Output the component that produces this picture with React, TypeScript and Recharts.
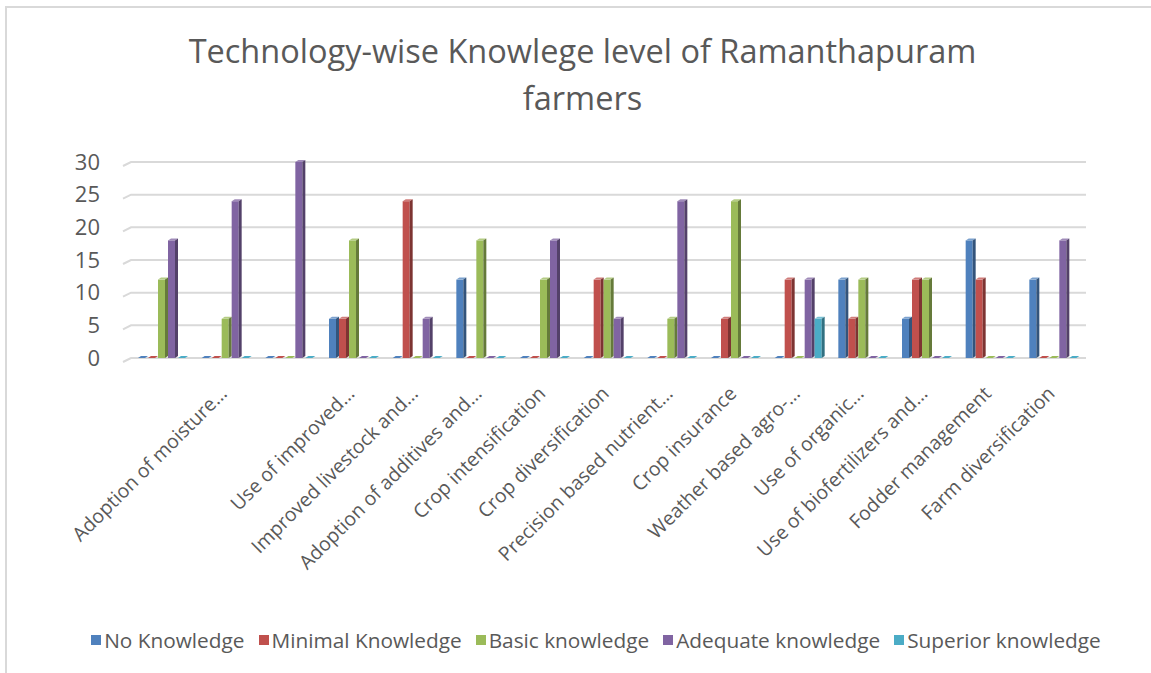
import { BarChart, Bar, XAxis, YAxis, CartesianGrid, Legend } from 'recharts';

const categories = [
  '',
  'Adoption of moisture…',
  '',
  'Use of improved…',
  'Improved livestock and…',
  'Adoption of additives and…',
  'Crop intensification',
  'Crop diversification',
  'Precision based nutrient…',
  'Crop insurance',
  'Weather based agro-…',
  'Use of organic…',
  'Use of biofertilizers and…',
  'Fodder management',
  'Farm diversification',
];

const noKnowledge = [0, 0, 0, 6, 0, 12, 0, 0, 0, 0, 0, 12, 6, 18, 12];
const minimalKnowledge = [0, 0, 0, 6, 24, 0, 0, 12, 0, 6, 12, 6, 12, 12, 0];
const basicKnowledge = [12, 6, 0, 18, 0, 18, 12, 12, 6, 24, 0, 12, 12, 0, 0];
const adequateKnowledge = [18, 24, 30, 0, 6, 0, 18, 6, 24, 0, 12, 0, 0, 0, 18];
const superiorKnowledge = [0, 0, 0, 0, 0, 0, 0, 0, 0, 0, 6, 0, 0, 0, 0];

const yTicks = [0, 5, 10, 15, 20, 25, 30];

const series = [
  { key: 'none', name: 'No Knowledge', color: '#4f81bd' },
  { key: 'minimal', name: 'Minimal Knowledge', color: '#c0504d' },
  { key: 'basic', name: 'Basic knowledge', color: '#9bbb59' },
  { key: 'adequate', name: 'Adequate knowledge', color: '#8064a2' },
  { key: 'superior', name: 'Superior knowledge', color: '#4bacc6' },
];

const data = categories.map((name, i) => ({
  name,
  none: noKnowledge[i],
  minimal: minimalKnowledge[i],
  basic: basicKnowledge[i],
  adequate: adequateKnowledge[i],
  superior: superiorKnowledge[i],
}));

const FONT = '"Open Sans", "DejaVu Sans", sans-serif';
const TEXT = '#595959';

function shade(hex: string, f: number) {
  const n = parseInt(hex.slice(1), 16);
  const c = [(n >> 16) & 255, (n >> 8) & 255, n & 255].map((v) =>
    Math.round(f < 0 ? v * (1 + f) : v + (255 - v) * f)
  );
  return `rgb(${c[0]},${c[1]},${c[2]})`;
}

// fake 3d column like the excel one: front, top and side faces
function Column3D(props: any) {
  const { x, y, width, height, fill } = props;
  if (x == null || y == null) return null;
  const dx = 3;
  const dy = 2;
  const w = Math.max(width - dx, 1);
  const h = Math.max(height || 0, 0);
  const base = y + h;
  if (h < 0.5) {
    return (
      <path
        d={`M${x},${base} L${x + w},${base} L${x + w + dx},${base - dy} L${x + dx},${base - dy} Z`}
        fill={fill}
      />
    );
  }
  return (
    <g>
      <rect x={x} y={y} width={w} height={h} fill={fill} />
      <path
        d={`M${x},${y} L${x + w},${y} L${x + w + dx},${y - dy} L${x + dx},${y - dy} Z`}
        fill={shade(fill, 0.25)}
      />
      <path
        d={`M${x + w},${y} L${x + w + dx},${y - dy} L${x + w + dx},${base - dy} L${x + w},${base} Z`}
        fill={shade(fill, -0.35)}
      />
    </g>
  );
}

function GridLine(props: any) {
  const { x1, y1, x2, y2 } = props;
  return (
    <path
      key={props.key ?? `g-${y1}`}
      d={`M${x1 - 8},${y1 + 4} L${x1},${y1} L${x2},${y2}`}
      stroke="#d9d9d9"
      strokeWidth={2}
      fill="none"
    />
  );
}

function CategoryTick({ x, y, payload }: any) {
  const ax = x - 3;
  const ay = y + 24;
  return (
    <text
      x={ax}
      y={ay}
      transform={`rotate(-45, ${ax}, ${ay})`}
      textAnchor="end"
      dy="0.35em"
      fill={TEXT}
      fontSize={19.5}
      fontFamily={FONT}
    >
      {payload.value}
    </text>
  );
}

function LegendRow() {
  return (
    <div
      style={{
        display: 'flex',
        justifyContent: 'center',
        alignItems: 'center',
        gap: 14,
        fontFamily: FONT,
        fontSize: 20.8,
        color: TEXT,
        whiteSpace: 'nowrap',
        position: 'relative',
        left: 43,
      }}
    >
      {series.map((s) => (
        <span key={s.key} style={{ display: 'flex', alignItems: 'center', whiteSpace: 'nowrap' }}>
          <span style={{ width: 10, height: 10, background: s.color, marginRight: 3, flex: 'none' }} />
          {s.name}
        </span>
      ))}
    </div>
  );
}

export default function App() {
  return (
    <div style={{ position: 'absolute', left: 0, top: 0, width: 1151, height: 673, background: '#fff', overflow: 'hidden' }}>
      <div
        style={{
          position: 'absolute',
          left: 5,
          top: 6,
          width: 1200,
          height: 720,
          borderTop: '2px solid #d9d9d9',
          borderLeft: '2px solid #d9d9d9',
        }}
      />
      <div
        style={{
          position: 'absolute',
          left: 0,
          top: 27,
          width: 1165,
          textAlign: 'center',
          fontFamily: FONT,
          fontSize: 32.5,
          lineHeight: '47px',
          color: TEXT,
        }}
      >
        Technology-wise Knowlege level of Ramanthapuram
        <br />
        farmers
      </div>
      <div style={{ position: 'absolute', left: 0, top: 0 }}>
        <BarChart
          width={1151}
          height={673}
          data={data}
          margin={{ top: 162, right: 65, left: 20, bottom: 21 }}
          barCategoryGap="11%"
          barGap={0}
        >
          <CartesianGrid vertical={false} horizontal={GridLine as any} />
          <YAxis
            width={111}
            domain={[0, 30]}
            ticks={yTicks}
            axisLine={false}
            tickLine={false}
            tickSize={0}
            tickMargin={31}
            tick={{ fill: TEXT, fontSize: 22, fontFamily: FONT }}
          />
          <XAxis
            dataKey="name"
            height={268}
            axisLine={false}
            tickLine={false}
            interval={0}
            tick={<CategoryTick />}
          />
          <Legend verticalAlign="bottom" height={26} content={<LegendRow />} />
          {series.map((s) => (
            <Bar
              key={s.key}
              dataKey={s.key}
              name={s.name}
              fill={s.color}
              shape={<Column3D />}
              isAnimationActive={false}
            />
          ))}
        </BarChart>
      </div>
    </div>
  );
}
